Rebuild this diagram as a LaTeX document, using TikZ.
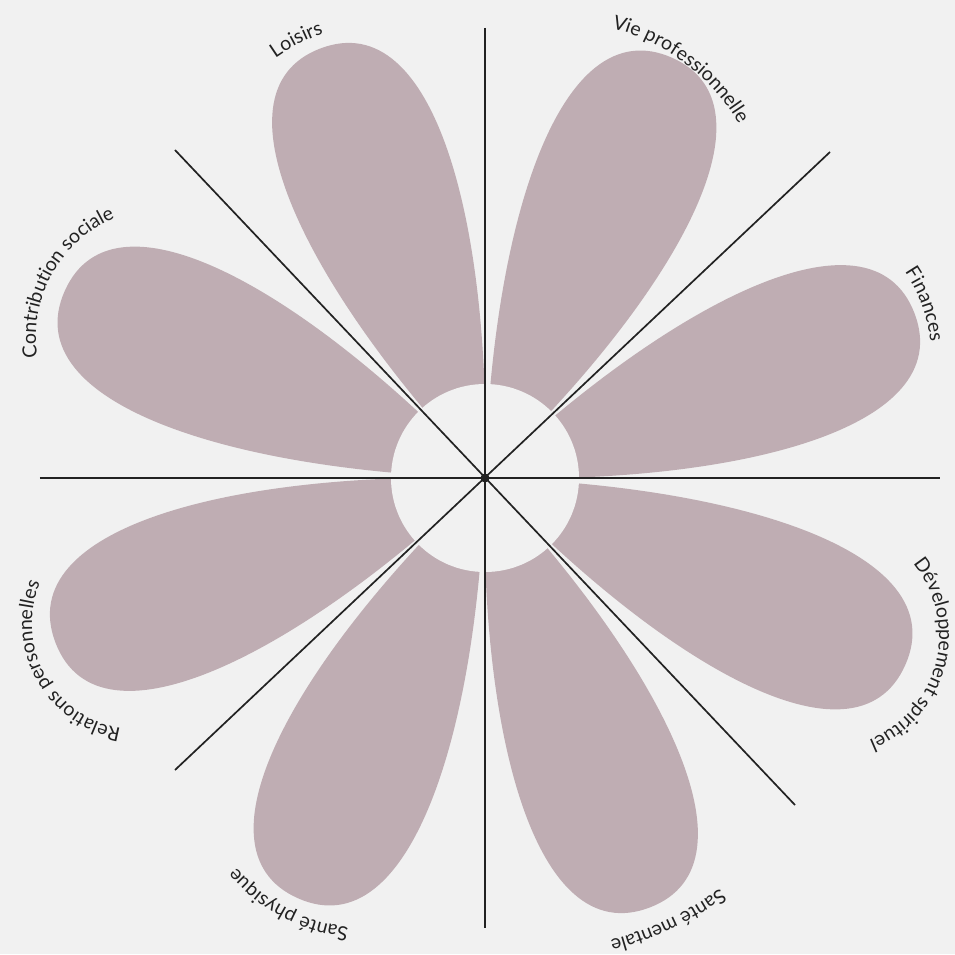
\documentclass[tikz,border=0pt]{standalone}
\usepackage{fontspec}
\setmainfont{Lato}
\usetikzlibrary{decorations.text}
\definecolor{bgcol}{HTML}{F1F1F1}
\definecolor{petalcol}{HTML}{BFADB3}
\definecolor{inkcol}{HTML}{222222}
\tikzset{
  petal/.style={fill=petalcol},
  axisline/.style={draw=inkcol, line width=1.7pt},
  labelarc/.style={postaction={decorate, decoration={text along path, text align=center, text color=inkcol, text={|\fontsize{19.5}{23}\selectfont|#1}}}}
}
\newcommand{\petalshape}{(0,0) .. controls (22.5:250) and (460,124) .. (460,0) .. controls (460,-124) and (-22.5:250) .. (0,0)}
% \curvedlabel{cx}{cy}{radius}{mid angle}{text}
\newcommand{\curvedlabel}[5]{%
  \path[labelarc={#5}] (#1,#2) ++(#4+90:#3) arc[start angle=#4+90, end angle=#4-90, radius=#3];}
\begin{document}
\begin{tikzpicture}[x=1pt,y=1pt]
\fill[bgcol] (-485,-476) rectangle (470,478);
\useasboundingbox (-485,-476) rectangle (470,478);
\coordinate (c) at (0,0);
% petals
\foreach \a in {22.5,67.5,112.5,157.5,202.5,247.5,292.5,337.5}{
  \begin{scope}[rotate=\a-1.5]
    \fill[petal] \petalshape;
  \end{scope}
}
% centre disc
\fill[bgcol] (c) circle[radius=94];
% lines
\coordinate (n) at (0,450);
\coordinate (s) at (0,-450);
\coordinate (w) at (-445,0);
\coordinate (e) at (455,0);
\coordinate (ne) at (345,326);
\coordinate (sw) at (-310,-292);
\coordinate (nw) at (-310,328);
\coordinate (se) at (310,-327);
\draw[axisline] (n) -- (s);
\draw[axisline] (w) -- (e);
\draw[axisline] (ne) -- (sw);
\draw[axisline] (nw) -- (se);
\fill[inkcol] (c) circle[radius=4.5];
% labels
\curvedlabel{-102}{268.2}{186}{117}{Loisirs}
\curvedlabel{76}{250}{206}{53}{Vie professionnelle}
\curvedlabel{295}{121}{151}{20}{Finances}
\curvedlabel{342}{-158}{112}{-14}{Développement spirituel}
\curvedlabel{45.5}{-148}{324}{-65}{Santé mentale}
\curvedlabel{-120}{-283}{167}{-118}{Santé physique}
\curvedlabel{-347}{-146}{106}{-151}{Relations personnelles}
\curvedlabel{-320}{141}{129}{151}{Contribution sociale}
\end{tikzpicture}
\end{document}
